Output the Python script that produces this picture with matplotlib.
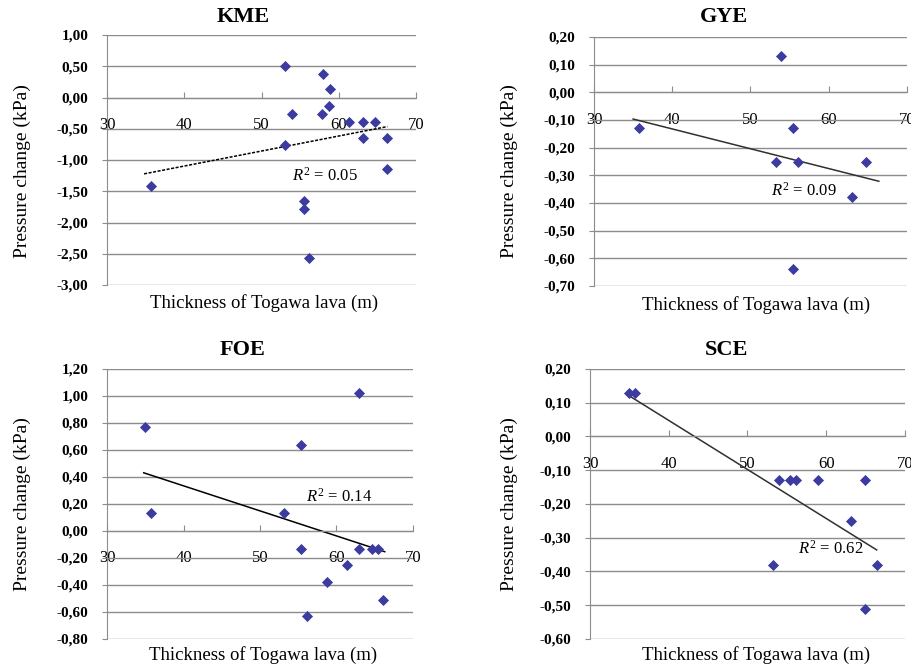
import numpy as np
import matplotlib
matplotlib.use("Agg")
import matplotlib.pyplot as plt
from matplotlib.ticker import FuncFormatter, MultipleLocator

plt.rcParams['font.family'] = ['Liberation Serif', 'DejaVu Serif']
plt.rcParams['mathtext.fontset'] = 'custom'
plt.rcParams['mathtext.rm'] = 'Liberation Serif'
plt.rcParams['mathtext.it'] = 'Liberation Serif:italic'

# thickness of Togawa lava (m) vs pressure change (kPa)
kme_x = [35.7, 53.1, 53.9, 53.1, 57.9, 58.9, 58.8, 57.8, 61.3, 63.1, 64.7,
         63.1, 66.3, 66.3, 55.5, 55.5, 56.2]
kme_y = [-1.41, 0.50, -0.26, -0.76, 0.38, 0.13, -0.13, -0.26, -0.39, -0.39,
         -0.39, -0.64, -0.64, -1.15, -1.66, -1.78, -2.56]

gye_x = [35.7, 53.9, 55.4, 53.2, 56.1, 64.8, 63.0, 55.4]
gye_y = [-0.13, 0.13, -0.13, -0.25, -0.25, -0.25, -0.38, -0.64]

foe_x = [35.0, 35.7, 53.2, 55.4, 55.3, 56.1, 58.8, 61.4, 63.0, 62.9, 64.6,
         65.4, 66.1]
foe_y = [0.77, 0.13, 0.13, 0.64, -0.13, -0.63, -0.38, -0.25, 1.02, -0.13,
         -0.13, -0.13, -0.51]

sce_x = [34.9, 35.7, 54.0, 55.4, 56.1, 58.9, 64.9, 63.1, 53.2, 66.4, 64.9]
sce_y = [0.13, 0.13, -0.13, -0.13, -0.13, -0.13, -0.13, -0.25, -0.38, -0.38,
         -0.51]

titles = ["KME", "GYE", "FOE", "SCE"]
r2_labels = ["0.05", "0.09", "0.14", "0.62"]
r2_pos = [(54.0, -1.25), (52.6, -0.357), (56.0, 0.254), (56.4, -0.334)]
trend_span = [(34.8, 66.3), (35.0, 66.4), (34.8, 66.3), (34.8, 66.4)]
ylims = [(-3.0, 1.0, 0.5), (-0.7, 0.2, 0.1), (-0.8, 1.2, 0.2), (-0.6, 0.2, 0.1)]
xs = [kme_x, gye_x, foe_x, sce_x]
ys = [kme_y, gye_y, foe_y, sce_y]

W, H = 912, 666
# axes boxes in pixels: left, top, right, bottom
boxes = [(107, 35, 416, 285), (594, 37, 907, 286),
         (107, 369, 413, 639), (590, 369, 905, 639)]
title_xy = [(243, 17), (724, 17), (243, 350), (727, 350)]
xlabel_xy = [(264, 303), (756, 305), (263, 655), (756, 655)]
ylabel_xy = [(22, 171), (509, 171), (22, 504), (509, 504)]

grey = "#8c8c8c"
fig = plt.figure(figsize=(W / 100, H / 100), dpi=100)

for i in range(4):
    l, t, r, b = boxes[i]
    ax = fig.add_axes([l / W, 1 - b / H, (r - l) / W, (b - t) / H])
    x = np.array(xs[i])
    y = np.array(ys[i])
    ax.scatter(x, y, marker="D", s=32, color="#3b3ba0", zorder=3, linewidths=0)
    k, c = np.polyfit(x, y, 1)
    xx = np.array(trend_span[i])
    ls = (0, (2, 1)) if i == 0 else "-"
    col = "black" if i in (0, 2) else "#303030"
    ax.plot(xx, k * xx + c, color=col, lw=1.1, ls=ls, zorder=2.5)
    ax.text(r2_pos[i][0], r2_pos[i][1], r"$R^2$ = " + r2_labels[i],
            fontsize=12, va="center", ha="left")

    lo, hi, step = ylims[i]
    ax.set_xlim(30, 70)
    ax.set_ylim(lo, hi)
    ax.yaxis.set_major_locator(MultipleLocator(step))
    ax.xaxis.set_major_locator(MultipleLocator(10))
    ax.yaxis.set_major_formatter(FuncFormatter(lambda v, p: f"{v:.2f}".replace(".", ",")))
    ax.grid(axis="y", color=grey, lw=1.0)
    ax.set_axisbelow("line")
    for s in ["top", "right"]:
        ax.spines[s].set_visible(False)
    ax.spines["left"].set_color(grey)
    ax.spines["bottom"].set_color(grey)
    ax.spines["bottom"].set_position(("data", 0))
    ax.tick_params(axis="y", direction="out", length=3.5, color=grey,
                   labelsize=11, pad=10)
    ax.tick_params(axis="x", direction="in", length=4, color=grey,
                   labelsize=12, pad=14)
    for lab in ax.get_yticklabels():
        lab.set_fontweight("bold")
    ax.patch.set_alpha(0)

    fig.text(title_xy[i][0] / W, 1 - title_xy[i][1] / H, titles[i],
             fontsize=16, fontweight="bold", ha="center", va="center")
    fig.text(xlabel_xy[i][0] / W, 1 - xlabel_xy[i][1] / H,
             "Thickness of Togawa lava (m)", fontsize=13.5, ha="center", va="center")
    fig.text(ylabel_xy[i][0] / W, 1 - ylabel_xy[i][1] / H,
             "Pressure change (kPa)", fontsize=14, rotation=90,
             ha="center", va="center")

fig.savefig("out.png", dpi=100)
